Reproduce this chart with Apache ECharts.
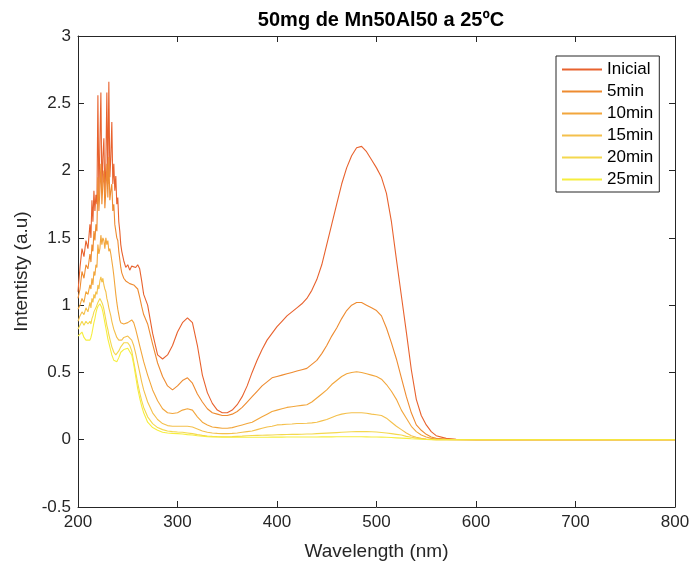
<!DOCTYPE html>
<html>
<head>
<meta charset="utf-8">
<script src="https://cdn.jsdelivr.net/npm/echarts@6/dist/echarts.min.js"></script>
<style>
html,body{margin:0;padding:0;background:#fff;}
#chart{width:695px;height:566px;}
</style>
</head>
<body>
<div id="chart"></div>
<script>
// Wavelength grid (nm)
var wavelengths = [
  200,202,204,206,208,210,
  212,213,214,215,216,217,218,219,220,221,
  222,223,224,225,226,227,228,229,230,231,
  232,233,234,235,236,237,238,239,240,241,
  242,243,244,
  246,248,250,252,254,256,258,260,262,264,266,
  270,275,280,285,290,295,300,305,310,315,
  320,325,330,335,340,345,350,355,360,365,
  370,375,380,385,390,395,400,405,410,415,
  420,425,430,435,440,445,450,455,460,465,
  470,475,480,485,490,495,500,505,510,515,
  520,525,530,535,540,545,550,555,560,
  570,580,590,600,620,640,660,680,700,720,740,760,780,800
];

var seriesNames = ['Inicial','5min','10min','15min','20min','25min'];

var inicial = [
  1.10,1.28,1.42,1.36,1.48,1.42,
  1.60,1.50,1.78,1.62,1.85,1.70,1.82,1.75,2.56,1.80,
  2.20,2.58,1.85,2.10,2.24,1.82,2.05,2.58,1.90,2.66,
  1.95,2.10,2.36,1.90,2.05,1.85,1.96,1.75,1.80,1.62,
  1.55,1.45,1.40,
  1.33,1.28,1.30,1.26,1.29,1.30,1.28,1.30,1.27,1.18,1.08,
  1.00,0.79,0.63,0.60,0.63,0.70,0.80,0.87,0.905,0.87,
  0.70,0.48,0.35,0.27,0.22,0.20,0.20,0.22,0.26,0.32,
  0.40,0.50,0.59,0.67,0.74,0.79,0.84,0.88,0.92,0.95,
  0.98,1.01,1.05,1.11,1.19,1.30,1.45,1.60,1.75,1.90,
  2.02,2.11,2.17,2.18,2.14,2.08,2.02,1.95,1.83,1.62,
  1.34,1.07,0.80,0.52,0.30,0.18,0.11,0.06,0.03,
  0.01,0.004,0.002,0.001,0,0,0,0,0,0,0,0,0,0
];

var min5 = [
  1.05,1.12,1.25,1.20,1.30,1.27,
  1.38,1.32,1.45,1.40,1.55,1.48,1.60,1.55,1.95,1.70,
  1.85,2.05,1.75,1.90,2.00,1.72,1.85,2.05,1.80,2.10,
  1.78,1.85,1.90,1.70,1.75,1.60,1.60,1.50,1.48,1.40,
  1.34,1.28,1.24,
  1.20,1.18,1.17,1.16,1.17,1.15,1.14,1.12,1.06,0.99,0.93,
  0.86,0.71,0.57,0.47,0.40,0.37,0.40,0.44,0.46,0.42,
  0.34,0.28,0.23,0.20,0.19,0.18,0.18,0.19,0.21,0.24,
  0.28,0.32,0.36,0.40,0.43,0.46,0.47,0.48,0.49,0.50,
  0.51,0.52,0.53,0.56,0.59,0.64,0.70,0.77,0.83,0.90,
  0.96,1.00,1.02,1.02,1.00,0.98,0.96,0.92,0.83,0.72,
  0.60,0.46,0.32,0.20,0.11,0.07,0.04,0.02,0.01,
  0.005,0.002,0.001,0,0,0,0,0,0,0,0,0,0,0
];

var min10 = [
  0.97,1.00,1.05,1.02,1.10,1.08,
  1.15,1.12,1.20,1.15,1.25,1.22,1.30,1.28,1.45,1.38,
  1.42,1.52,1.45,1.50,1.48,1.42,1.50,1.45,1.48,1.40,
  1.42,1.38,1.37,1.28,1.22,1.15,1.08,1.02,0.97,0.93,
  0.89,0.87,0.86,
  0.86,0.86,0.87,0.88,0.89,0.87,0.82,0.76,0.70,0.64,0.58,
  0.48,0.37,0.29,0.23,0.20,0.195,0.20,0.22,0.23,0.22,
  0.17,0.13,0.11,0.095,0.09,0.085,0.085,0.09,0.10,0.11,
  0.12,0.13,0.15,0.17,0.19,0.21,0.22,0.23,0.24,0.245,
  0.25,0.255,0.26,0.28,0.31,0.34,0.37,0.41,0.44,0.47,
  0.49,0.50,0.505,0.50,0.49,0.48,0.47,0.45,0.41,0.36,
  0.30,0.22,0.16,0.10,0.06,0.035,0.02,0.01,0.005,
  0.002,0.001,0,0,0,0,0,0,0,0,0,0,0,0
];

var min15 = [
  0.88,0.92,0.95,0.93,0.98,0.95,
  1.02,0.98,1.05,1.02,1.08,1.05,1.10,1.08,1.15,1.12,
  1.18,1.21,1.17,1.20,1.15,1.12,1.10,1.05,1.02,0.98,
  0.95,0.92,0.88,0.85,0.82,0.80,0.78,0.76,0.75,0.74,
  0.73,0.73,0.74,
  0.76,0.77,0.77,0.76,0.74,0.70,0.64,0.57,0.50,0.43,0.37,
  0.28,0.20,0.15,0.12,0.105,0.10,0.10,0.10,0.10,0.095,
  0.08,0.065,0.055,0.05,0.047,0.045,0.045,0.047,0.05,0.055,
  0.06,0.065,0.075,0.085,0.095,0.10,0.11,0.112,0.115,0.117,
  0.12,0.12,0.122,0.125,0.13,0.14,0.15,0.165,0.18,0.19,
  0.197,0.20,0.20,0.20,0.197,0.19,0.185,0.18,0.16,0.13,
  0.10,0.075,0.05,0.03,0.018,0.01,0.005,0.002,0,
  0,0,0,0,0,0,0,0,0,0,0,0,0,0
];

var min20 = [
  0.82,0.85,0.88,0.85,0.88,0.86,
  0.88,0.86,0.90,0.92,0.95,0.96,0.98,0.99,1.02,1.03,
  1.05,1.04,1.02,1.00,0.97,0.93,0.89,0.85,0.82,0.78,
  0.75,0.72,0.69,0.67,0.65,0.64,0.63,0.63,0.64,0.66,
  0.67,0.69,0.70,
  0.72,0.73,0.72,0.70,0.66,0.58,0.50,0.42,0.35,0.29,0.24,
  0.17,0.12,0.09,0.075,0.065,0.06,0.057,0.055,0.05,0.045,
  0.038,0.032,0.028,0.025,0.023,0.022,0.022,0.023,0.025,0.027,
  0.03,0.031,0.032,0.033,0.034,0.035,0.037,0.038,0.039,0.04,
  0.04,0.041,0.042,0.043,0.045,0.047,0.049,0.051,0.053,0.055,
  0.057,0.059,0.06,0.06,0.06,0.059,0.057,0.054,0.05,0.045,
  0.04,0.035,0.025,0.018,0.012,0.007,0.004,0.002,0,
  0,0,0,0,0,0,0,0,0,0,0,0,0,0
];

var min25 = [
  0.77,0.78,0.80,0.76,0.74,0.73,
  0.74,0.76,0.79,0.83,0.87,0.90,0.94,0.97,0.99,1.00,
  1.01,1.00,0.98,0.95,0.91,0.87,0.83,0.79,0.75,0.72,
  0.69,0.66,0.63,0.61,0.59,0.58,0.58,0.58,0.59,0.61,
  0.63,0.65,0.66,
  0.67,0.68,0.68,0.67,0.63,0.56,0.47,0.38,0.31,0.25,0.20,
  0.13,0.09,0.07,0.055,0.05,0.047,0.045,0.042,0.038,0.035,
  0.03,0.026,0.023,0.021,0.02,0.019,0.018,0.018,0.018,0.018,
  0.018,0.018,0.018,0.018,0.018,0.019,0.019,0.019,0.02,0.02,
  0.02,0.02,0.02,0.02,0.02,0.021,0.021,0.021,0.022,0.022,
  0.022,0.022,0.022,0.022,0.021,0.02,0.02,0.019,0.018,0.016,
  0.014,0.012,0.01,0.007,0.005,0.003,0.002,0.001,0,
  0,0,0,0,0,0,0,0,0,0,0,0,0,0
];

var xTicks = [200,300,400,500,600,700,800];
var yTicks = [-0.5,0,0.5,1,1.5,2,2.5,3];

var allValues = [inicial, min5, min10, min15, min20, min25];
var colors = ['#E8622E','#EE8B30','#F2A63C','#F4C04C','#F4D84E','#F6EE3E'];

var FONT = "'Liberation Sans', Arial, Helvetica, sans-serif";
var INK = '#262626';

function pairs(vals){
  var out = [];
  for (var i = 0; i < wavelengths.length; i++) out.push([wavelengths[i], vals[i]]);
  return out;
}

var series = seriesNames.map(function(name, k){
  return {
    name: name,
    type: 'line',
    xAxisIndex: 0,
    yAxisIndex: 0,
    data: pairs(allValues[k]),
    showSymbol: false,
    symbol: 'none',
    smooth: false,
    color: colors[k],
    lineStyle: {width: 1.1, color: colors[k]},
    itemStyle: {color: colors[k]}
  };
});

var chart = echarts.init(document.getElementById('chart'), null, {renderer: 'canvas'});

var xMin = xTicks[0], xMax = xTicks[xTicks.length-1], xInt = xTicks[1]-xTicks[0];
var yMin = yTicks[0], yMax = yTicks[yTicks.length-1], yInt = yTicks[1]-yTicks[0];

chart.setOption({
  animation: false,
  backgroundColor: '#fff',
  textStyle: {fontFamily: FONT},
  title: {
    text: '50mg de Mn50Al50 a 25ºC',
    left: 376,
    top: 5,
    textAlign: 'center',
    textStyle: {fontFamily: FONT, fontSize: 20, fontWeight: 'bold', color: '#000'}
  },
  legend: {
    orient: 'vertical',
    left: 556,
    top: 56,
    padding: [5, 6, 4, 6],
    itemWidth: 40,
    itemHeight: 2,
    itemGap: 5,
    icon: 'rect',
    data: seriesNames,
    borderColor: INK,
    borderWidth: 1,
    backgroundColor: '#fff',
    textStyle: {fontFamily: FONT, fontSize: 17, color: '#000'}
  },
  grid: {left: 78, right: 20, top: 36, bottom: 57, containLabel: false},
  xAxis: [{
    type: 'value', position: 'bottom',
    min: xMin, max: xMax, interval: xInt,
    name: 'Wavelength (nm)', nameLocation: 'middle', nameGap: 35,
    nameTextStyle: {fontFamily: FONT, fontSize: 19, color: INK},
    axisLine: {show: true, onZero: false, lineStyle: {color: INK, width: 1}},
    axisTick: {show: true, inside: true, length: 6, lineStyle: {color: INK}},
    axisLabel: {show: true, fontFamily: FONT, fontSize: 17, color: INK, margin: 7},
    splitLine: {show: false}
  }, {
    type: 'value', position: 'top',
    min: xMin, max: xMax, interval: xInt,
    axisLine: {show: true, onZero: false, lineStyle: {color: INK, width: 1}},
    axisTick: {show: true, inside: true, length: 6, lineStyle: {color: INK}},
    axisLabel: {show: false},
    splitLine: {show: false}
  }],
  yAxis: [{
    type: 'value', position: 'left',
    min: yMin, max: yMax, interval: yInt,
    name: 'Intentisty (a.u)', nameLocation: 'middle', nameGap: 44, nameRotate: 90,
    nameTextStyle: {fontFamily: FONT, fontSize: 19, color: INK},
    axisLine: {show: true, onZero: false, lineStyle: {color: INK, width: 1}},
    axisTick: {show: true, inside: true, length: 6, lineStyle: {color: INK}},
    axisLabel: {show: true, fontFamily: FONT, fontSize: 17, color: INK, margin: 7},
    splitLine: {show: false}
  }, {
    type: 'value', position: 'right',
    min: yMin, max: yMax, interval: yInt,
    axisLine: {show: true, onZero: false, lineStyle: {color: INK, width: 1}},
    axisTick: {show: true, inside: true, length: 6, lineStyle: {color: INK}},
    axisLabel: {show: false},
    splitLine: {show: false}
  }],
  series: series
});
</script>
</body>
</html>
